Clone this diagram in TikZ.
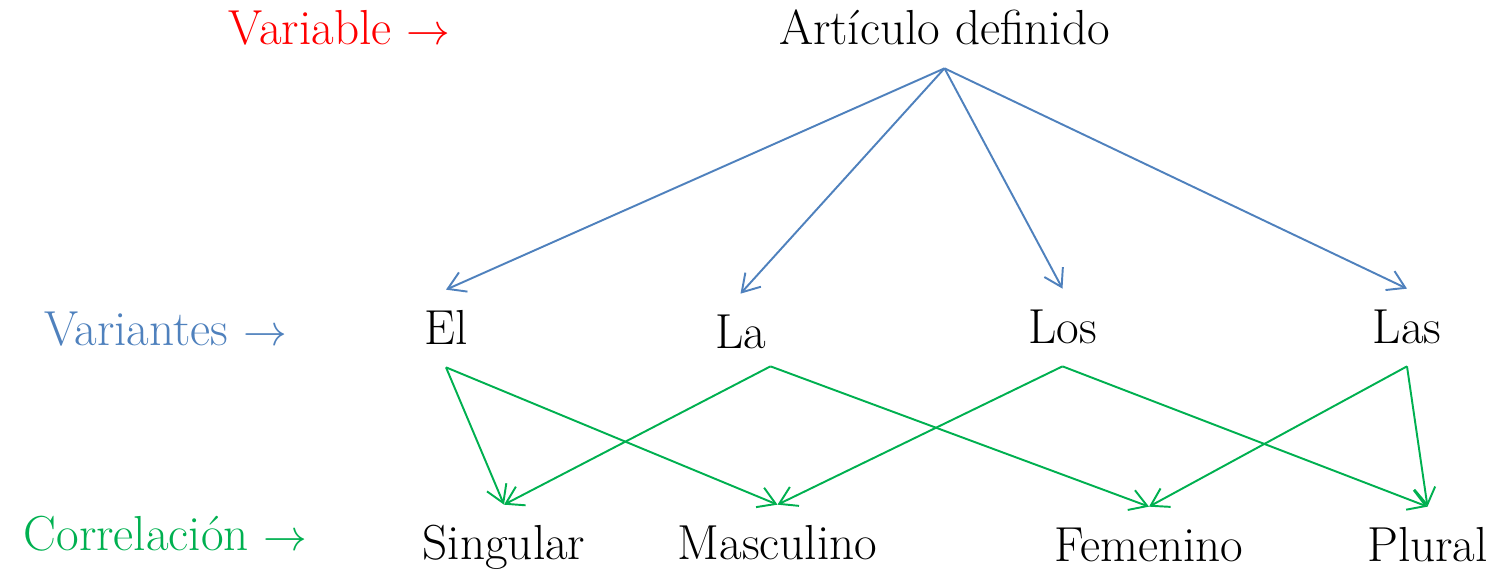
\documentclass[tikz,border=0pt]{standalone}
\usetikzlibrary{arrows.meta}

\definecolor{azul}{RGB}{79,129,189}
\definecolor{verde}{RGB}{0,176,80}

\tikzset{
  wort/.style={anchor=base,inner xsep=0pt,inner ysep=0.44cm,text height=0.64cm,text depth=0.24cm,font=\fontsize{28}{33}\selectfont},
  pfeil/.style={line width=1.1pt,-{Straight Barb[length=0.34cm,width=0.42cm]}}
}

\begin{document}
\begin{tikzpicture}[x=0.02cm,y=-0.02cm]
\useasboundingbox (0,0) rectangle (1499,571);

\node[wort,red](V) at (339.5,45){Variable $\rightarrow$};
\node[wort,azul](W) at (165.5,345){Variantes $\rightarrow$};
\node[wort,verde](C) at (165.5,550){Correlación $\rightarrow$};

\node[wort](A) at (944.5,45){Artículo definido};

\node[wort](el) at (446,344){El};
\node[wort](la) at (740.5,348){La};
\node[wort](los) at (1062.5,343){Los};
\node[wort](las) at (1407,343){Las};

\node[wort](sg) at (504,559){Singular};
\node[wort](ms) at (777.5,559){Masculino};
\node[wort](fm) at (1149,561){Femenino};
\node[wort](pl) at (1427.5,561){Plural};

\draw[pfeil,azul]([yshift=0.22cm]A.south) -- (el.north);
\draw[pfeil,azul]([yshift=0.22cm]A.south) -- (la.north);
\draw[pfeil,azul]([yshift=0.22cm]A.south) -- (los.north);
\draw[pfeil,azul]([yshift=0.22cm]A.south) -- (las.north);

\draw[pfeil,verde]([yshift=0.22cm]el.south) -- (sg.north);
\draw[pfeil,verde]([yshift=0.22cm]el.south) -- (ms.north);
\draw[pfeil,verde]([xshift=0.6cm,yshift=0.32cm]la.south) -- (sg.north);
\draw[pfeil,verde]([xshift=0.6cm,yshift=0.32cm]la.south) -- (fm.north);
\draw[pfeil,verde]([yshift=0.22cm]los.south) -- (ms.north);
\draw[pfeil,verde]([yshift=0.22cm]los.south) -- (pl.north);
\draw[pfeil,verde]([yshift=0.22cm]las.south) -- (fm.north);
\draw[pfeil,verde]([yshift=0.22cm]las.south) -- (pl.north);

\end{tikzpicture}
\end{document}
